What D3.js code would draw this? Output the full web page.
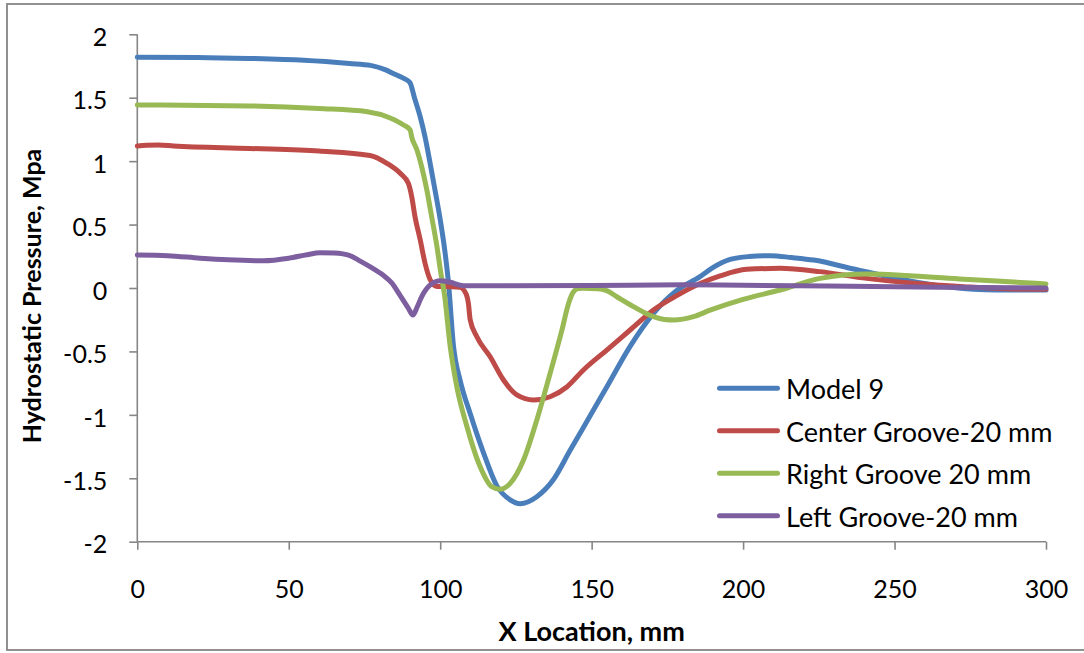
<!DOCTYPE html>
<html>
<head>
<meta charset="utf-8">
<script src="https://cdn.jsdelivr.net/npm/d3@7"></script>
<style>
  html, body { margin: 0; padding: 0; background: #fff; }
  svg { display: block; }
  text { font-family: Lato, "Open Sans", sans-serif; fill: #000; }
</style>
</head>
<body>
<svg id="chart" width="1084" height="653"></svg>
<script>
// ---- data ----
const seriesNames = ["Model 9", "Center Groove-20 mm", "Right Groove 20 mm", "Left Groove-20 mm"];
const xTicks = [0, 50, 100, 150, 200, 250, 300];
const yTicks = [-2, -1.5, -1, -0.5, 0, 0.5, 1, 1.5, 2];

const model9X = [0, 20, 37, 55, 70, 77, 82, 85, 87.8, 90, 91.5, 93.4, 95, 96.7, 98.3, 100, 101.6, 102.7, 104.4, 106.6, 109.9, 114.3, 118.7, 123.1, 126.4, 131.9, 137.4, 142.9, 146.8, 155, 162.7, 170.4, 178.1, 185.8, 190, 195.7, 202, 209, 216, 223.3, 236.5, 250.8, 267.3, 283.8, 300];
const model9Y = [1.82, 1.818, 1.81, 1.795, 1.77, 1.755, 1.72, 1.685, 1.655, 1.62, 1.5, 1.35, 1.19, 0.98, 0.77, 0.54, 0.28, 0.05, -0.46, -0.73, -0.99, -1.30, -1.56, -1.67, -1.70, -1.645, -1.51, -1.28, -1.12, -0.78, -0.46, -0.20, -0.02, 0.09, 0.16, 0.225, 0.248, 0.255, 0.24, 0.22, 0.15, 0.076, 0.01, -0.015, -0.015];

const centerX = [0, 3, 7, 12, 37, 60, 76.8, 82.4, 86.8, 89.5, 90.6, 91.7, 93.4, 95, 96.7, 98.9, 103.3, 106.6, 108.6, 109.3, 109.9, 112.1, 116.5, 120.9, 125.3, 130.8, 136.3, 141.8, 147.3, 155, 162.7, 170.4, 178.1, 185.8, 192.4, 201.2, 212.2, 225.4, 240.8, 256.3, 272.8, 289.3, 300];
const centerY = [1.12, 1.125, 1.127, 1.12, 1.10, 1.08, 1.045, 0.983, 0.904, 0.825, 0.72, 0.56, 0.38, 0.195, 0.065, 0.012, 0.01, 0.005, -0.05, -0.12, -0.25, -0.384, -0.542, -0.725, -0.843, -0.883, -0.857, -0.78, -0.646, -0.489, -0.331, -0.173, -0.06, 0.035, 0.095, 0.147, 0.155, 0.129, 0.076, 0.037, 0.01, -0.008, -0.01];

const rightX = [0, 37, 60, 76, 83.5, 87.9, 90.1, 90.6, 92.3, 93.9, 95.6, 97.2, 98.9, 100.2, 101.4, 103.3, 105.5, 108.8, 113.2, 117, 119.8, 123.1, 127.5, 131.9, 136.3, 140.2, 142.4, 144, 145.5, 147.3, 152, 155, 158.3, 163.8, 170.4, 174, 177, 183.6, 189.1, 200, 212.2, 225.4, 240.8, 256.3, 272.8, 289.3, 300];
const rightY = [1.443, 1.435, 1.415, 1.39, 1.34, 1.285, 1.245, 1.19, 1.09, 0.955, 0.77, 0.56, 0.33, 0.12, -0.05, -0.46, -0.78, -1.09, -1.41, -1.566, -1.587, -1.54, -1.356, -1.04, -0.672, -0.33, -0.12, -0.03, -0.005, -0.002, -0.005, -0.021, -0.069, -0.147, -0.226, -0.248, -0.252, -0.226, -0.175, -0.09, -0.016, 0.076, 0.11, 0.095, 0.069, 0.047, 0.032];

const leftX = [0, 10, 20.7, 30, 41.6, 50, 56, 60.3, 65, 70.2, 73, 76.8, 81.2, 84, 86.8, 89.5, 91, 92.4, 93.9, 96.7, 100, 103.3, 107.7, 120, 150, 180, 200, 250, 300];
const leftY = [0.26, 0.255, 0.235, 0.222, 0.215, 0.235, 0.262, 0.278, 0.275, 0.255, 0.22, 0.168, 0.1, 0.04, -0.06, -0.16, -0.213, -0.15, -0.068, 0.024, 0.058, 0.045, 0.018, 0.018, 0.02, 0.025, 0.022, 0.01, 0.0];

const seriesX = [model9X, centerX, rightX, leftX];
const seriesY = [model9Y, centerY, rightY, leftY];
const seriesColors = ["#4A7EBB", "#BE4B48", "#98B954", "#7D5FA0"];

// ---- layout ----
const svg = d3.select("#chart");
const axisColor = "#868686";

// outer chart frame
svg.append("rect")
  .attr("x", 7).attr("y", 4)
  .attr("width", 1090).attr("height", 646)
  .attr("fill", "#fff")
  .attr("stroke", axisColor).attr("stroke-width", 1.8);

const x = d3.scaleLinear().domain([0, 300]).range([137.3, 1046]);
const y = d3.scaleLinear().domain([-2, 2]).range([541.7, 34.3]);

// y axis
const yAxis = svg.append("g")
  .attr("transform", `translate(${x(0)},0)`)
  .call(d3.axisLeft(y).tickValues(yTicks).tickSize(8).tickPadding(22).tickFormat(d => String(d)));
yAxis.selectAll("text").attr("dy", "0.45em").style("font-size", "25px");

// x axis at the bottom of the plot
const xAxis = svg.append("g")
  .attr("transform", `translate(0,${y(-2)})`)
  .call(d3.axisBottom(x).tickValues(xTicks).tickSize(8).tickPadding(31).tickFormat(d => String(d)));
xAxis.selectAll("text").attr("dy", "0.71em").style("font-size", "25px");

[yAxis, xAxis].forEach(g => {
  g.select(".domain").attr("stroke", axisColor).attr("stroke-width", 1.6);
  g.selectAll(".tick line").attr("stroke", axisColor).attr("stroke-width", 1.6);
  g.selectAll("text").attr("fill", "#000").style("font-family", "Lato, sans-serif");
});
// plain domain lines without end caps
yAxis.select(".domain").attr("d", `M0,${y(2)}V${y(-2)}`);
xAxis.select(".domain").attr("d", `M${x(0)},0H${x(300)}`);

// series lines
const line = d3.line()
  .x(d => x(d[0]))
  .y(d => y(d[1]))
  .curve(d3.curveMonotoneX);

seriesNames.forEach((name, i) => {
  const pts = seriesX[i].map((v, k) => [v, seriesY[i][k]]);
  svg.append("path")
    .datum(pts)
    .attr("fill", "none")
    .attr("stroke", seriesColors[i])
    .attr("stroke-width", 5)
    .attr("stroke-linejoin", "round")
    .attr("stroke-linecap", "round")
    .attr("d", line);
});

// axis titles
svg.append("text")
  .attr("x", (x(0) + x(300)) / 2)
  .attr("y", 641)
  .attr("text-anchor", "middle")
  .style("font-size", "27px")
  .style("font-weight", "bold")
  .text("X Location, mm");

svg.append("text")
  .attr("transform", `translate(41,${(y(2) + y(-2)) / 2 + 8}) rotate(-90)`)
  .attr("text-anchor", "middle")
  .style("font-size", "25px")
  .style("font-weight", "bold")
  .text("Hydrostatic Pressure, Mpa");

// legend
const legend = svg.append("g");
seriesNames.forEach((name, i) => {
  const base = 399.3 + i * 42.5;
  legend.append("line")
    .attr("x1", 719.5).attr("x2", 777.5)
    .attr("y1", base - 11).attr("y2", base - 11)
    .attr("stroke", seriesColors[i])
    .attr("stroke-width", 5)
    .attr("stroke-linecap", "round");
  legend.append("text")
    .attr("x", 786).attr("y", base)
    .style("font-size", "27px")
    .text(name);
});
</script>
</body>
</html>
